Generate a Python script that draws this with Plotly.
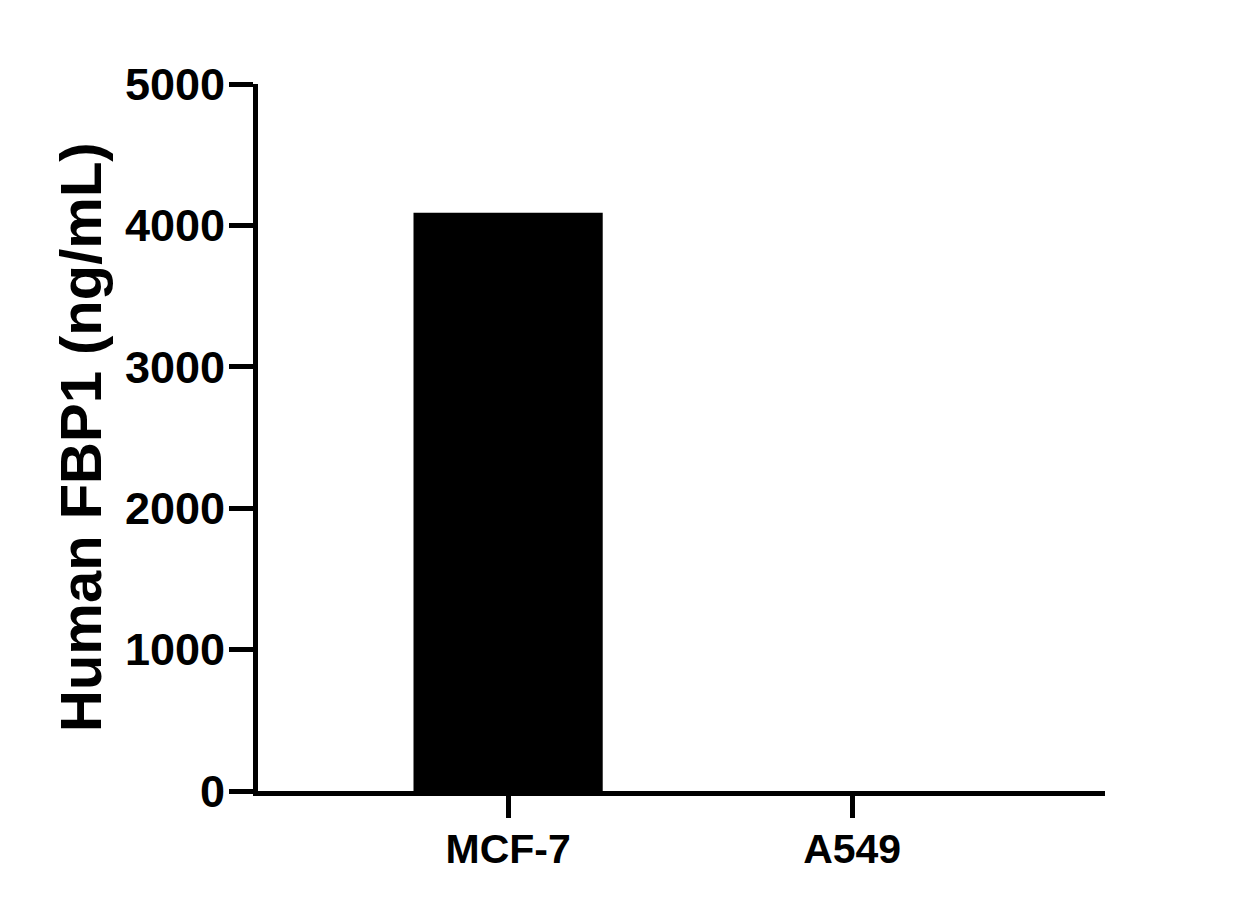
import plotly.graph_objects as go

cell_lines = ["MCF-7", "A549"]
fbp1_ng_ml = [4090, 0]
y_ticks = [0, 1000, 2000, 3000, 4000, 5000]

fig = go.Figure()
fig.add_trace(go.Bar(x=cell_lines, y=fbp1_ng_ml, width=0.55,
                     marker=dict(color="black", line=dict(width=0))))

fig.update_layout(
    width=1242, height=908,
    margin=dict(l=258, r=137, t=84, b=117),
    plot_bgcolor="white", paper_bgcolor="white",
    font=dict(family="Liberation Sans, Arial", color="black"),
    showlegend=False,
)
fig.update_xaxes(
    range=[-0.727, 1.735], showline=True, linewidth=5, linecolor="black",
    ticks="outside", ticklen=22, tickwidth=5, tickcolor="black",
    tickfont=dict(size=41, family="Liberation Sans, Arial", weight="bold"),
    ticklabelstandoff=-4,
    showgrid=False, zeroline=False,
)
fig.update_yaxes(
    range=[0, 5000], tickvals=y_ticks, showline=True, linewidth=5, linecolor="black",
    ticks="outside", ticklen=24, tickwidth=5, tickcolor="black",
    tickfont=dict(size=45, family="Liberation Sans, Arial", weight="bold"),
    ticklabelstandoff=-5,
    showgrid=False, zeroline=False,
)
fig.add_annotation(
    text="Human FBP1 (ng/mL)", textangle=-90,
    xref="paper", yref="paper", x=(80 - 258) / 847, y=(791 - 437) / 707,
    showarrow=False, xanchor="center", yanchor="middle",
    font=dict(size=58, family="Liberation Sans, Arial", weight="bold", color="black"),
)

# drop the default page margin so the figure sits at the window's corner
fig.write_html("out.html", config={"displayModeBar": False},
               post_script="document.body.style.margin='0';")
